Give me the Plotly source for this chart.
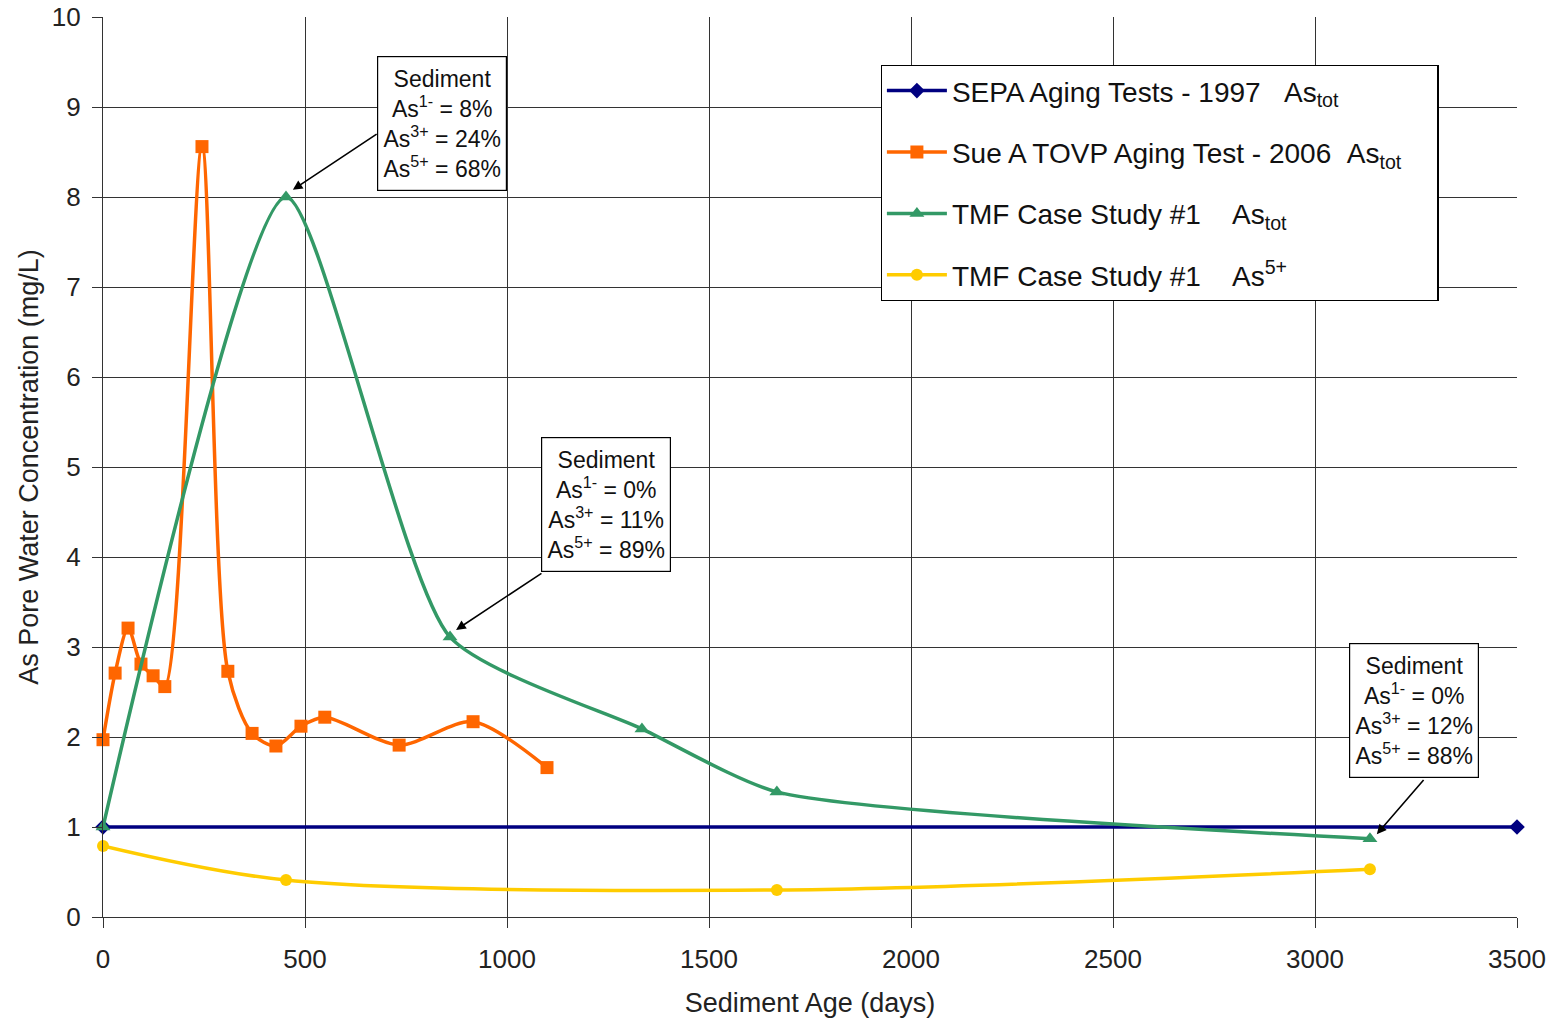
import plotly.graph_objects as go

# Sediment age (days) and arsenic pore water concentrations (mg/L)
sepa_days = [0, 3500]
sepa_astot = [1.0, 1.0]

sue_days = [0, 30, 62, 94, 124, 153, 245, 309, 369, 428, 490, 549, 733, 916, 1099]
sue_astot = [1.97, 2.71, 3.21, 2.81, 2.68, 2.56, 8.56, 2.73, 2.04, 1.90, 2.12, 2.22, 1.91, 2.17, 1.66]

tmf_days = [0, 453, 859, 1334, 1668, 3136]
tmf_astot = [1.0, 8.0, 3.11, 2.09, 1.39, 0.87]

tmf5_days = [0, 453, 1668, 3136]
tmf5_as5 = [0.79, 0.41, 0.30, 0.53]

# Sediment speciation call-outs: text position, arrow tail, arrow head
callouts = [
    {"lines": ["8%", "24%", "68%"], "pos": (840, 8.82), "tail": (681, 8.71), "head": (470, 8.08)},
    {"lines": ["0%", "11%", "89%"], "pos": (1245, 4.58), "tail": (1089, 3.83), "head": (874, 3.19)},
    {"lines": ["0%", "12%", "88%"], "pos": (3244, 2.29), "tail": (3272, 1.54), "head": (3153, 0.92)},
]

NAVY = "#000080"
ORANGE = "#FF6600"
GREEN = "#339966"
YELLOW = "#FFCC00"
FONT = "Liberation Sans, Arial, sans-serif"
SP = "&nbsp;"

fig = go.Figure()

fig.add_trace(go.Scatter(
    x=sepa_days, y=sepa_astot, mode="lines+markers",
    name="SEPA Aging Tests - 1997" + SP * 3 + "As<sub>tot</sub>",
    legendgroup="a",
    line=dict(color=NAVY, width=3.5),
    marker=dict(symbol="diamond", size=12, color=NAVY),
    cliponaxis=False,
))
fig.add_trace(go.Scatter(
    x=sue_days, y=sue_astot, mode="lines+markers",
    name="Sue A TOVP Aging Test - 2006" + SP * 2 + "As<sub>tot</sub>" + SP * 4,
    legendgroup="b",
    line=dict(color=ORANGE, width=3.5, shape="spline", smoothing=0.8),
    marker=dict(symbol="square", size=13, color=ORANGE),
    cliponaxis=False,
))
fig.add_trace(go.Scatter(
    x=tmf_days, y=tmf_astot, mode="lines+markers",
    name="TMF Case Study #1" + SP * 4 + "As<sub>tot</sub>",
    legendgroup="c",
    line=dict(color=GREEN, width=3.5, shape="spline", smoothing=0.6),
    marker=dict(symbol="triangle-up", size=13, color=GREEN),
    cliponaxis=False,
))
fig.add_trace(go.Scatter(
    x=tmf5_days, y=tmf5_as5, mode="lines+markers",
    name="TMF Case Study #1" + SP * 4 + "As<sup>5+</sup>",
    legendgroup="d",
    line=dict(color=YELLOW, width=3.5, shape="spline", smoothing=0.9),
    marker=dict(symbol="circle", size=12, color=YELLOW),
    cliponaxis=False,
))

annotations = []
for c in callouts:
    p1, p3, p5 = c["lines"]
    text = ("Sediment<br>"
            f"As<sup>1-</sup> = {p1}<br>"
            f"As<sup>3+</sup> = {p3}<br>"
            f"As<sup>5+</sup> = {p5}")
    annotations.append(dict(
        x=c["head"][0], y=c["head"][1], ax=c["tail"][0], ay=c["tail"][1],
        xref="x", yref="y", axref="x", ayref="y",
        text="", showarrow=True, arrowhead=2, arrowsize=1.2, arrowwidth=1.6,
        arrowcolor="black",
    ))
    annotations.append(dict(
        x=c["pos"][0], y=c["pos"][1], xref="x", yref="y",
        text=text, showarrow=False, align="center",
        font=dict(family=FONT, size=23, color="#111"),
        bgcolor="white", bordercolor="black", borderwidth=1.2,
        width=126, height=131,
    ))

fig.update_layout(
    width=1552, height=1018,
    margin=dict(l=103, r=35, t=17, b=101),
    paper_bgcolor="white", plot_bgcolor="white",
    font=dict(family=FONT, size=27, color="#222"),
    showlegend=True,
    legend=dict(
        x=0.550, y=0.947, xanchor="left", yanchor="top",
        bgcolor="white", bordercolor="black", borderwidth=1.2,
        font=dict(family=FONT, size=28, color="#111"),
        tracegroupgap=22, itemwidth=60,
        traceorder="grouped",
    ),
    annotations=annotations,
)

fig.update_xaxes(
    range=[0, 3500], dtick=500, tick0=0, automargin=False,
    showgrid=True, gridcolor="#333", gridwidth=1.3,
    showline=True, linecolor="#333", linewidth=1.3, mirror=False,
    ticks="outside", ticklen=10, tickcolor="#333", tickwidth=1.3,
    ticklabelstandoff=9,
    zeroline=False,
    tickfont=dict(size=26, color="#222"),
    title=dict(text="Sediment Age (days)", font=dict(size=27, color="#222"), standoff=19),
)
fig.update_yaxes(
    range=[0, 10], dtick=1, tick0=0, automargin=False,
    showgrid=True, gridcolor="#333", gridwidth=1.3,
    showline=True, linecolor="#333", linewidth=1.3,
    ticks="outside", ticklen=10, tickcolor="#333", tickwidth=1.3,
    ticklabelstandoff=6,
    zeroline=False,
    tickfont=dict(size=26, color="#222"),
    title=dict(text="As Pore Water Concentration (mg/L)", font=dict(size=27, color="#222"), standoff=5),
)

fig.write_html("out.html")
